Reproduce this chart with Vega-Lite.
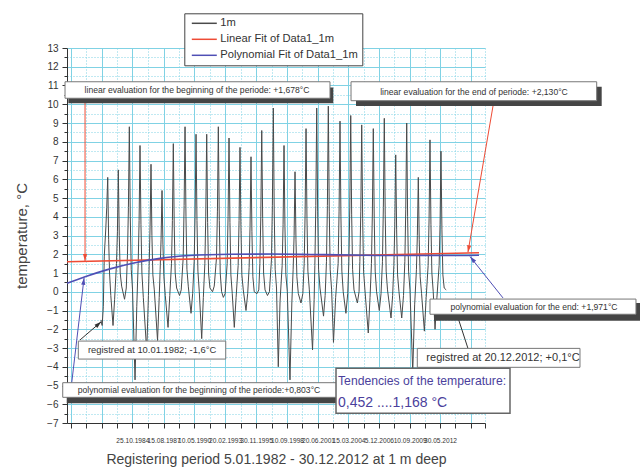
{
"$schema": "https://vega.github.io/schema/vega-lite/v6.json",
"width": 418, "height": 375,
"autosize": {"type": "none"},
"padding": {"left": 67, "top": 48, "right": 155, "bottom": 47},
"background": "white",
"config": {"font": "Liberation Sans, Arial, sans-serif", "view": {"stroke": null}},
"datasets": {
"series": [
{"d":"1982-01-05","t":-1.5},{"d":"1982-01-10","t":-1.6},{"d":"1982-02-10","t":-1.8},{"d":"1982-03-20","t":-0.8},{"d":"1982-04-20","t":1.9},{"d":"1982-06-10","t":3.4},{"d":"1982-07-10","t":4.5},{"d":"1982-08-11","t":6.1},{"d":"1982-09-10","t":2.8},{"d":"1982-10-10","t":1.0},{"d":"1982-11-20","t":-0.2},
{"d":"1983-02-01","t":-1.8},{"d":"1983-03-25","t":-0.4},{"d":"1983-05-25","t":1.5},{"d":"1983-06-25","t":3.2},{"d":"1983-07-24","t":6.5},{"d":"1983-08-24","t":3.0},{"d":"1983-09-24","t":1.0},{"d":"1983-11-10","t":0.3},
{"d":"1984-02-13","t":-0.4},{"d":"1984-04-10","t":0.2},{"d":"1984-05-20","t":2.0},{"d":"1984-06-19","t":4.5},{"d":"1984-07-19","t":8.8},{"d":"1984-08-19","t":4.0},{"d":"1984-09-19","t":1.2},{"d":"1984-11-01","t":0.1},
{"d":"1985-01-22","t":-4.7},{"d":"1985-03-20","t":-0.8},{"d":"1985-05-05","t":1.5},{"d":"1985-06-04","t":3.8},{"d":"1985-07-04","t":7.8},{"d":"1985-08-04","t":3.6},{"d":"1985-09-04","t":1.0},{"d":"1985-10-20","t":-0.3},
{"d":"1986-02-10","t":-3.2},{"d":"1986-04-05","t":-0.2},{"d":"1986-04-30","t":1.4},{"d":"1986-05-30","t":3.5},{"d":"1986-06-29","t":6.8},{"d":"1986-07-29","t":3.0},{"d":"1986-08-29","t":0.9},{"d":"1986-10-15","t":0.1},
{"d":"1987-01-29","t":-2.6},{"d":"1987-03-25","t":-0.3},{"d":"1987-04-25","t":1.2},{"d":"1987-05-25","t":2.8},{"d":"1987-06-25","t":5.4},{"d":"1987-07-25","t":2.5},{"d":"1987-08-25","t":0.8},{"d":"1987-10-10","t":-0.2},
{"d":"1988-01-08","t":-1.9},{"d":"1988-03-05","t":-0.2},{"d":"1988-04-30","t":1.5},{"d":"1988-05-30","t":3.8},{"d":"1988-06-29","t":7.9},{"d":"1988-07-29","t":3.5},{"d":"1988-08-29","t":1.0},{"d":"1988-10-15","t":0.2},
{"d":"1989-01-19","t":-0.2},{"d":"1989-03-15","t":0.1},{"d":"1989-05-18","t":1.8},{"d":"1989-06-18","t":4.6},{"d":"1989-07-18","t":8.8},{"d":"1989-08-18","t":4.0},{"d":"1989-09-18","t":1.2},{"d":"1989-11-01","t":0.3},
{"d":"1990-01-30","t":-1.15},{"d":"1990-03-25","t":-0.1},{"d":"1990-05-13","t":1.6},{"d":"1990-06-13","t":4.2},{"d":"1990-07-13","t":8.4},{"d":"1990-08-13","t":3.8},{"d":"1990-09-13","t":1.1},{"d":"1990-10-28","t":0.0},
{"d":"1991-01-15","t":-2.5},{"d":"1991-03-10","t":-0.3},{"d":"1991-04-28","t":1.5},{"d":"1991-05-28","t":4.0},{"d":"1991-06-28","t":8.4},{"d":"1991-07-28","t":3.7},{"d":"1991-08-28","t":1.0},{"d":"1991-10-12","t":0.2},
{"d":"1992-01-05","t":0.0},{"d":"1992-03-01","t":0.3},{"d":"1992-05-13","t":1.8},{"d":"1992-06-13","t":4.3},{"d":"1992-07-13","t":8.8},{"d":"1992-08-13","t":3.8},{"d":"1992-09-13","t":1.0},{"d":"1992-10-28","t":0.0},
{"d":"1992-12-24","t":-0.3},{"d":"1993-02-20","t":-0.1},{"d":"1993-04-28","t":1.5},{"d":"1993-05-28","t":4.0},{"d":"1993-06-28","t":8.2},{"d":"1993-07-28","t":3.7},{"d":"1993-08-28","t":0.9},{"d":"1993-10-12","t":-0.1},
{"d":"1993-12-18","t":-1.9},{"d":"1994-02-15","t":-0.3},{"d":"1994-04-23","t":1.4},{"d":"1994-05-23","t":3.8},{"d":"1994-06-23","t":7.7},{"d":"1994-07-23","t":3.5},{"d":"1994-08-23","t":0.9},{"d":"1994-10-08","t":0.1},
{"d":"1995-01-05","t":-1.0},{"d":"1995-03-01","t":-0.1},{"d":"1995-04-18","t":1.3},{"d":"1995-05-18","t":3.5},{"d":"1995-06-18","t":7.2},{"d":"1995-07-18","t":3.2},{"d":"1995-08-18","t":0.8},{"d":"1995-10-01","t":0.0},
{"d":"1996-01-01","t":-0.1},{"d":"1996-02-28","t":0.1},{"d":"1996-04-04","t":1.5},{"d":"1996-05-04","t":4.0},{"d":"1996-06-04","t":8.6},{"d":"1996-07-04","t":3.9},{"d":"1996-08-04","t":1.0},{"d":"1996-09-20","t":0.1},
{"d":"1996-12-09","t":-0.2},{"d":"1997-02-10","t":0.0},{"d":"1997-04-18","t":1.7},{"d":"1997-05-18","t":4.6},{"d":"1997-06-18","t":9.8},{"d":"1997-07-18","t":4.2},{"d":"1997-08-18","t":1.2},{"d":"1997-10-01","t":0.2},
{"d":"1997-11-28","t":-4.0},{"d":"1998-01-25","t":-0.5},{"d":"1998-04-04","t":1.4},{"d":"1998-05-04","t":3.6},{"d":"1998-06-04","t":7.8},{"d":"1998-07-04","t":3.5},{"d":"1998-08-04","t":0.9},{"d":"1998-09-20","t":0.0},
{"d":"1998-12-16","t":-4.7},{"d":"1999-02-15","t":-0.6},{"d":"1999-03-30","t":1.2},{"d":"1999-04-30","t":3.0},{"d":"1999-05-30","t":6.4},{"d":"1999-06-30","t":2.8},{"d":"1999-07-30","t":0.8},{"d":"1999-09-15","t":-0.1},
{"d":"1999-12-12","t":-0.6},{"d":"2000-02-10","t":-0.1},{"d":"2000-03-25","t":1.5},{"d":"2000-04-25","t":4.2},{"d":"2000-05-25","t":8.7},{"d":"2000-06-25","t":3.9},{"d":"2000-07-25","t":1.1},{"d":"2000-09-10","t":0.1},
{"d":"2000-12-24","t":-3.1},{"d":"2001-02-15","t":-0.4},{"d":"2001-03-10","t":1.4},{"d":"2001-04-10","t":4.6},{"d":"2001-05-10","t":9.8},{"d":"2001-06-10","t":4.3},{"d":"2001-07-10","t":1.2},{"d":"2001-08-25","t":0.2},
{"d":"2001-12-19","t":-1.3},{"d":"2002-02-10","t":-0.2},{"d":"2002-03-25","t":1.6},{"d":"2002-04-25","t":4.6},{"d":"2002-05-25","t":9.9},{"d":"2002-06-25","t":4.3},{"d":"2002-07-25","t":1.2},{"d":"2002-09-10","t":0.1},
{"d":"2002-11-10","t":-2.7},{"d":"2003-01-20","t":-0.3},{"d":"2003-04-12","t":1.5},{"d":"2003-05-12","t":4.3},{"d":"2003-06-12","t":9.1},{"d":"2003-07-12","t":4.0},{"d":"2003-08-12","t":1.1},{"d":"2003-09-25","t":0.0},
{"d":"2003-12-23","t":-1.15},{"d":"2004-02-20","t":-0.1},{"d":"2004-03-28","t":1.6},{"d":"2004-04-28","t":4.5},{"d":"2004-05-28","t":9.4},{"d":"2004-06-28","t":4.1},{"d":"2004-07-28","t":1.2},{"d":"2004-09-12","t":0.1},
{"d":"2005-01-01","t":-0.6},{"d":"2005-02-25","t":0.0},{"d":"2005-03-23","t":1.6},{"d":"2005-04-23","t":4.3},{"d":"2005-05-23","t":8.9},{"d":"2005-06-23","t":3.9},{"d":"2005-07-23","t":1.1},{"d":"2005-09-05","t":0.1},
{"d":"2005-12-24","t":-2.2},{"d":"2006-02-20","t":-0.3},{"d":"2006-04-07","t":1.5},{"d":"2006-05-07","t":4.2},{"d":"2006-06-07","t":8.7},{"d":"2006-07-07","t":3.9},{"d":"2006-08-07","t":1.1},{"d":"2006-09-22","t":0.0},
{"d":"2006-12-20","t":-1.0},{"d":"2007-02-15","t":-0.1},{"d":"2007-04-02","t":1.6},{"d":"2007-05-02","t":4.5},{"d":"2007-06-02","t":9.25},{"d":"2007-07-02","t":4.1},{"d":"2007-08-02","t":1.1},{"d":"2007-09-15","t":0.1},
{"d":"2008-01-08","t":-1.4},{"d":"2008-03-01","t":-0.2},{"d":"2008-04-10","t":1.4},{"d":"2008-05-10","t":3.5},{"d":"2008-06-10","t":7.3},{"d":"2008-07-10","t":3.3},{"d":"2008-08-10","t":0.9},{"d":"2008-09-25","t":0.0},
{"d":"2008-12-24","t":-1.4},{"d":"2009-02-20","t":-0.2},{"d":"2009-04-05","t":1.6},{"d":"2009-05-05","t":4.4},{"d":"2009-06-05","t":9.0},{"d":"2009-07-05","t":4.0},{"d":"2009-08-05","t":1.1},{"d":"2009-09-20","t":0.1},
{"d":"2009-12-20","t":-4.3},{"d":"2010-02-20","t":-0.7},{"d":"2010-04-20","t":1.2},{"d":"2010-05-20","t":3.0},{"d":"2010-06-20","t":6.1},{"d":"2010-07-20","t":2.8},{"d":"2010-08-20","t":0.8},{"d":"2010-10-05","t":-0.1},
{"d":"2011-01-05","t":-2.1},{"d":"2011-03-05","t":-0.3},{"d":"2011-05-08","t":1.4},{"d":"2011-06-08","t":3.9},{"d":"2011-07-08","t":8.1},{"d":"2011-08-08","t":3.6},{"d":"2011-09-08","t":1.0},{"d":"2011-10-22","t":0.0},
{"d":"2011-12-20","t":-2.0},{"d":"2012-02-20","t":-0.3},{"d":"2012-05-02","t":1.4},{"d":"2012-06-02","t":3.6},{"d":"2012-07-02","t":7.5},{"d":"2012-08-02","t":3.3},{"d":"2012-09-02","t":0.9},{"d":"2012-10-15","t":0.2},{"d":"2012-12-20","t":0.1}
],
"fits": [
{"s":"Linear Fit of Data1_1m","d":"1978-12-16","t":1.6},{"s":"Linear Fit of Data1_1m","d":"2015-11-29","t":2.08},
{"s":"Polynomial Fit of Data1_1m","d":"1978-12-16","t":0.45},{"s":"Polynomial Fit of Data1_1m","d":"1980-07-29","t":0.8},{"s":"Polynomial Fit of Data1_1m","d":"1982-10-26","t":1.22},{"s":"Polynomial Fit of Data1_1m","d":"1985-01-22","t":1.55},{"s":"Polynomial Fit of Data1_1m","d":"1987-04-20","t":1.78},{"s":"Polynomial Fit of Data1_1m","d":"1989-12-28","t":1.93},{"s":"Polynomial Fit of Data1_1m","d":"1993-07-31","t":2.0},{"s":"Polynomial Fit of Data1_1m","d":"1997-03-03","t":2.01},{"s":"Polynomial Fit of Data1_1m","d":"2000-10-03","t":1.99},{"s":"Polynomial Fit of Data1_1m","d":"2004-05-05","t":1.96},{"s":"Polynomial Fit of Data1_1m","d":"2008-10-28","t":1.93},{"s":"Polynomial Fit of Data1_1m","d":"2012-06-01","t":1.93},{"s":"Polynomial Fit of Data1_1m","d":"2015-11-29","t":1.95}
],
"arrows": [
{"k":"lin","d":"1980-07-29","t":10.32,"d2":"1980-07-29","t2":1.64},
{"k":"lin","d":"2017-03-03","t":9.91,"d2":"2014-12-03","t2":2.11},
{"k":"poly","d":"1979-05-20","t":-4.85,"d2":"1980-06-27","t2":0.74},
{"k":"poly","d":"2018-01-24","t":-0.33,"d2":"2015-02-08","t2":1.88},
{"k":"reg","d":"1980-02-16","t":-2.57,"d2":"1982-01-10","t2":-1.6},
{"k":"reg","d":"2014-12-03","t":-3.02,"d2":"2013-06-28","t2":-0.4}
],
"heads": [
{"id":"h1","d":"1980-07-29","t":1.64},
{"id":"h2","d":"2014-12-03","t":2.11},
{"id":"h3","d":"1980-06-27","t":0.74},
{"id":"h4","d":"2015-02-08","t":1.88},
{"id":"h5","d":"1982-01-10","t":-1.6}
],
"shadows": [
{"d":"1979-01-29","d2":"2002-11-04","t":10.9,"t2":10.05},
{"d":"2004-11-17","d2":"2026-12-01","t":10.94,"t2":9.91},
{"d":"1978-12-07","d2":"2003-06-12","t":-5.05,"t2":-5.95},
{"d":"2011-11-16","d2":"2030-05-09","t":-0.6,"t2":-1.54}
],
"boxes": [
{"d":"1978-10-12","d2":"2002-07-19","t":11.2,"t2":10.32},
{"d":"2004-06-07","d2":"2026-06-20","t":11.2,"t2":10.19},
{"d":"1979-12-22","d2":"1993-03-12","t":-2.63,"t2":-3.59},
{"d":"1978-07-29","d2":"2003-04-17","t":-4.85,"t2":-5.63},
{"d":"2011-07-08","d2":"2029-12-28","t":-0.39,"t2":-1.2},
{"d":"2010-05-18","d2":"2024-12-20","t":-3.02,"t2":-4.03}
],
"tend": [
{"d":"2003-02-01","d2":"2018-09-10","t":-4.08,"t2":-6.48}
],
"texts": [
{"g":"a","d":"1990-08-15","t":10.76,"label":"linear evaluation for the beginning of the periode: +1,678°C"},
{"g":"a","d":"2015-06-19","t":10.65,"label":"linear evaluation for the end of periode: +2,130°C"},
{"g":"a","d":"1990-10-19","t":-5.24,"label":"polynomial evaluation for the beginning of the periode:+0,803°C"},
{"g":"a","d":"2020-11-04","t":-0.81,"label":"polynomial evaluation for the end: +1,971°C"},
{"g":"r1","d":"1986-08-02","t":-3.11,"label":"registred at 10.01.1982; -1,6°C"},
{"g":"r2","d":"2018-01-24","t":-3.53,"label":"registred at 20.12.2012; +0,1°C"},
{"g":"t1","d":"2003-04-08","t":-4.76,"label":"Tendencies of the temperature:"},
{"g":"t2","d":"2003-04-08","t":-5.95,"label":"0,452 ....1,168 °C"}
]
},
"encoding": {
"x": {"field": "d", "type": "temporal",
 "scale": {"type": "utc", "domain": [{"year":1978,"month":12,"date":16,"utc":true},{"year":2016,"month":6,"date":13,"utc":true}]},
 "axis": {
  "title": "Registering period 5.01.1982 - 30.12.2012 at 1 m deep",
  "values": [{"year":1979,"month":4,"date":23,"utc":true},{"year":1980,"month":8,"date":24,"utc":true},{"year":1982,"month":1,"date":23,"utc":true},{"year":1983,"month":6,"date":9,"utc":true},{"year":1984,"month":10,"date":25,"utc":true},{"year":1986,"month":3,"date":21,"utc":true},{"year":1987,"month":8,"date":15,"utc":true},{"year":1988,"month":12,"date":28,"utc":true},{"year":1990,"month":5,"date":10,"utc":true},{"year":1991,"month":9,"date":29,"utc":true},{"year":1993,"month":2,"date":20,"utc":true},{"year":1994,"month":7,"date":11,"utc":true},{"year":1995,"month":11,"date":30,"utc":true},{"year":1997,"month":4,"date":21,"utc":true},{"year":1998,"month":9,"date":10,"utc":true},{"year":2000,"month":1,"date":29,"utc":true},{"year":2001,"month":6,"date":20,"utc":true},{"year":2002,"month":11,"date":1,"utc":true},{"year":2004,"month":3,"date":15,"utc":true},{"year":2005,"month":7,"date":26,"utc":true},{"year":2006,"month":12,"date":5,"utc":true},{"year":2008,"month":4,"date":23,"utc":true},{"year":2009,"month":9,"date":10,"utc":true},{"year":2011,"month":1,"date":18,"utc":true},{"year":2012,"month":5,"date":30,"utc":true},{"year":2013,"month":10,"date":15,"utc":true},{"year":2015,"month":3,"date":1,"utc":true},{"year":2016,"month":6,"date":13,"utc":true}],
  "labelExpr": "indexof(['1984-10-25','1987-08-15','1990-05-10','1993-02-20','1995-11-30','1998-09-10','2001-06-20','2004-03-15','2006-12-05','2009-09-10','2012-05-30'], utcFormat(datum.value, '%Y-%m-%d')) >= 0 ? replace(utcFormat(datum.value, '%d.%m.%Y'), regexp('^0'), '') : ''",
  "grid": true, "gridColor": "#80d2e4", "gridWidth": 1,
  "gridDash": {"condition": {"test": "indexof(['1980-08-24','1983-06-09','1986-03-21','1988-12-28','1991-09-29','1994-07-11','1997-04-21','2000-01-29','2002-11-01','2005-07-26','2008-04-23','2011-01-18','2013-10-15','2016-06-13'], utcFormat(datum.value, '%Y-%m-%d')) >= 0", "value": [1, 2]}, "value": []},
  "tickSize": 5, "tickColor": "#333333", "domainColor": "#333333",
  "labelFontSize": 6.6, "labelColor": "#333333", "labelPadding": 9, "labelOverlap": false, "labelFlush": false, "labelAngle": 0,
  "titleFontSize": 14, "titleFontWeight": "normal", "titleColor": "#444444", "titlePadding": 9
 }},
"y": {"field": "t", "type": "quantitative",
 "scale": {"domain": [-7, 13], "nice": false, "zero": false},
 "axis": {
  "title": "temperature, °C",
  "values": [-7,-6.5,-6,-5.5,-5,-4.5,-4,-3.5,-3,-2.5,-2,-1.5,-1,-0.5,0,0.5,1,1.5,2,2.5,3,3.5,4,4.5,5,5.5,6,6.5,7,7.5,8,8.5,9,9.5,10,10.5,11,11.5,12,12.5,13],
  "labelExpr": "datum.value % 1 == 0 ? format(datum.value, 'd') : ''",
  "grid": true, "gridColor": "#80d2e4", "gridWidth": 1,
  "gridDash": {"condition": {"test": "datum.value % 1 != 0", "value": [1, 2]}, "value": []},
  "tickSize": {"condition": {"test": "datum.value % 1 != 0", "value": 3}, "value": 5},
  "tickColor": "#333333", "domainColor": "#333333",
  "labelFontSize": 10, "labelColor": "#333333", "labelPadding": 4, "labelOverlap": false, "labelFlush": false,
  "titleFontSize": 15, "titleFontWeight": "normal", "titleColor": "#444444", "titlePadding": 17
 }}
},
"layer": [
{"data": {"name": "series"},
 "mark": {"type": "line", "strokeWidth": 1},
 "encoding": {"color": {"datum": "1m", "type": "nominal",
   "scale": {"domain": ["1m", "Linear Fit of Data1_1m", "Polynomial Fit of Data1_1m"], "range": ["#4a4a4a", "#ee4b35", "#4f4fb5"]},
   "legend": {"title": null, "orient": "none", "legendX": 117.3, "legendY": -34.7, "padding": 4, "fillColor": "white", "strokeColor": "#444444",
     "symbolType": "M-2.5,0L2.5,0", "symbolSize": 100, "symbolStrokeWidth": 1.5, "symbolOffset": 10, "labelOffset": 10,
     "labelFontSize": 11.2, "labelColor": "#333333", "rowPadding": 4, "labelLimit": 300}}}},
{"data": {"name": "fits"},
 "mark": {"type": "line", "strokeWidth": 1.6, "interpolate": "monotone"},
 "encoding": {"color": {"field": "s", "type": "nominal",
   "legend": {"title": null, "orient": "none", "legendX": 117.3, "legendY": -34.7, "padding": 4, "fillColor": "white", "strokeColor": "#444444",
     "symbolType": "M-2.5,0L2.5,0", "symbolSize": 100, "symbolStrokeWidth": 1.5, "symbolOffset": 10, "labelOffset": 10,
     "labelFontSize": 11.2, "labelColor": "#333333", "rowPadding": 4, "labelLimit": 300}}}},
{"data": {"name": "arrows"},
 "mark": {"type": "rule", "strokeWidth": 1},
 "encoding": {"x2": {"field": "d2"}, "y2": {"field": "t2"},
   "stroke": {"field": "k", "type": "nominal", "scale": {"domain": ["lin", "poly", "reg"], "range": ["#ee4b35", "#4f4fb5", "#333333"]}, "legend": null}}},
{"data": {"name": "heads"}, "transform": [{"filter": "datum.id == 'h1'"}],
 "mark": {"type": "point", "shape": "M0,0L-0.6,2L0.6,2Z", "filled": true, "color": "#ee4b35", "opacity": 1, "size": 49, "angle": 180}},
{"data": {"name": "heads"}, "transform": [{"filter": "datum.id == 'h2'"}],
 "mark": {"type": "point", "shape": "M0,0L-0.6,2L0.6,2Z", "filled": true, "color": "#ee4b35", "opacity": 1, "size": 49, "angle": 190}},
{"data": {"name": "heads"}, "transform": [{"filter": "datum.id == 'h3'"}],
 "mark": {"type": "point", "shape": "M0,0L-0.6,2L0.6,2Z", "filled": true, "color": "#4f4fb5", "opacity": 1, "size": 49, "angle": 7}},
{"data": {"name": "heads"}, "transform": [{"filter": "datum.id == 'h4'"}],
 "mark": {"type": "point", "shape": "M0,0L-0.6,2L0.6,2Z", "filled": true, "color": "#4f4fb5", "opacity": 1, "size": 49, "angle": 320}},
{"data": {"name": "heads"}, "transform": [{"filter": "datum.id == 'h5'"}],
 "mark": {"type": "point", "shape": "M0,0L-0.6,2L0.6,2Z", "filled": true, "color": "#333333", "opacity": 1, "size": 49, "angle": 49}},
{"data": {"name": "shadows"},
 "mark": {"type": "rect", "color": "#454545"},
 "encoding": {"x2": {"field": "d2"}, "y2": {"field": "t2"}}},
{"data": {"name": "boxes"},
 "mark": {"type": "rect", "fill": "white", "stroke": "#777777", "strokeWidth": 1},
 "encoding": {"x2": {"field": "d2"}, "y2": {"field": "t2"}}},
{"data": {"name": "tend"},
 "mark": {"type": "rect", "fill": "white", "stroke": "#666666", "strokeWidth": 1.5},
 "encoding": {"x2": {"field": "d2"}, "y2": {"field": "t2"}}},
{"data": {"name": "texts"}, "transform": [{"filter": "datum.g == 'a'"}],
 "mark": {"type": "text", "fontSize": 8.6, "color": "#333333", "align": "center", "baseline": "middle"},
 "encoding": {"text": {"field": "label"}}},
{"data": {"name": "texts"}, "transform": [{"filter": "datum.g == 'r1'"}],
 "mark": {"type": "text", "fontSize": 9.4, "color": "#333333", "align": "center", "baseline": "middle"},
 "encoding": {"text": {"field": "label"}}},
{"data": {"name": "texts"}, "transform": [{"filter": "datum.g == 'r2'"}],
 "mark": {"type": "text", "fontSize": 11, "color": "#333333", "align": "center", "baseline": "middle"},
 "encoding": {"text": {"field": "label"}}},
{"data": {"name": "texts"}, "transform": [{"filter": "datum.g == 't1'"}],
 "mark": {"type": "text", "fontSize": 12.2, "color": "#4b3f9c", "align": "left", "baseline": "middle"},
 "encoding": {"text": {"field": "label"}}},
{"data": {"name": "texts"}, "transform": [{"filter": "datum.g == 't2'"}],
 "mark": {"type": "text", "fontSize": 14, "color": "#4b3f9c", "align": "left", "baseline": "middle"},
 "encoding": {"text": {"field": "label"}}}
]
}
